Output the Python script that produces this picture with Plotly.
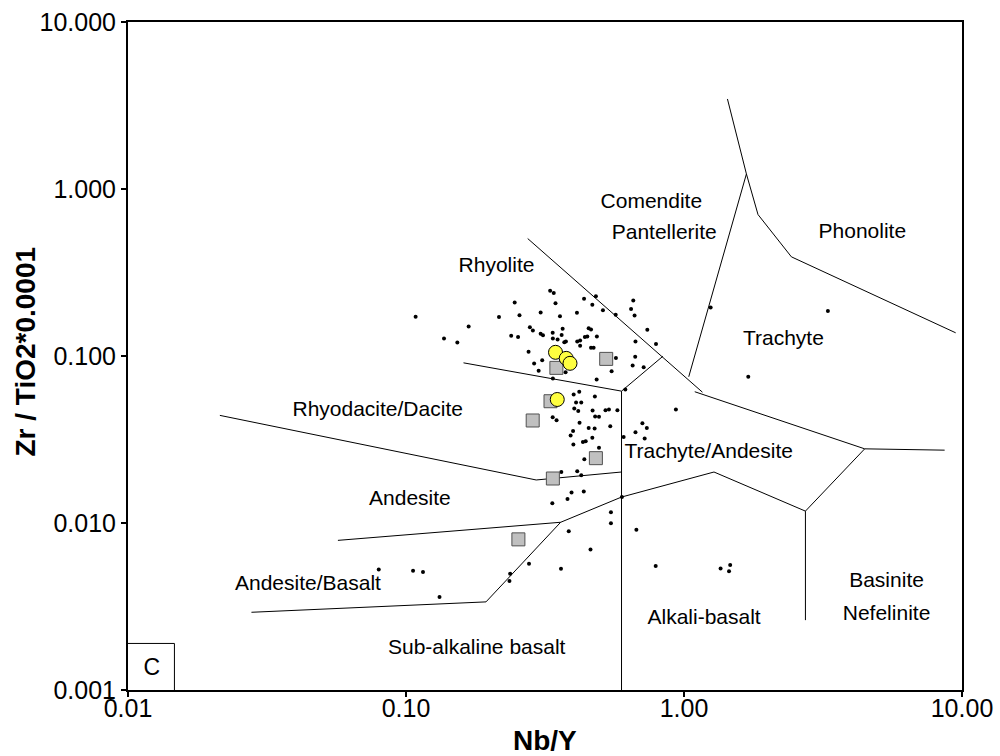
import plotly.graph_objects as go

# ---- sample data: Nb/Y vs Zr/TiO2*0.0001 ----
nb_y_samples = [
    0.330, 0.340, 0.246, 0.345, 0.437, 0.482, 0.468, 0.657, 0.645, 0.511,
    0.216, 0.256, 0.305, 0.358, 0.412, 0.568, 0.664, 0.168, 0.279, 0.286,
    0.366, 0.454, 0.463, 0.738, 0.137, 0.153, 0.239, 0.253, 0.305, 0.311,
    0.337, 0.363, 0.3375, 0.351, 0.371, 0.376, 0.413, 0.423, 0.440, 0.449,
    0.486, 0.423, 0.463, 0.473, 0.669, 0.793, 0.276, 0.569, 0.6675, 0.289,
    0.300, 0.309, 0.375, 0.549, 0.6535, 0.716, 0.3375, 0.485, 0.615, 1.247,
    0.935, 0.401, 0.420, 0.478, 0.409, 0.427, 0.403, 0.4165, 0.469, 0.522,
    0.537, 0.576, 0.479, 0.4945, 0.337, 0.1083, 0.348, 0.421, 0.454, 0.477,
    0.543, 0.399, 0.391, 0.433, 0.443, 0.468, 0.400, 0.4945, 0.6065, 0.669,
    0.7085, 0.735, 0.722, 0.438, 0.362, 0.413, 0.427, 0.394, 0.436, 0.381,
    0.336, 0.598, 0.546, 0.546, 0.674, 0.385, 0.461, 0.277, 0.361, 0.791,
    1.354, 1.466, 1.452, 0.237, 0.2356, 0.0798, 0.106, 0.1151, 0.132, 1.703,
    3.293,
]
zr_ti_samples = [
    0.2455, 0.2386, 0.209, 0.207, 0.220, 0.228, 0.203, 0.215, 0.1915, 0.1876,
    0.1715, 0.1754, 0.182, 0.173, 0.1813, 0.1764, 0.1747, 0.150, 0.1486, 0.142,
    0.1455, 0.1466, 0.144, 0.1435, 0.1273, 0.1203, 0.132, 0.130, 0.1357, 0.133,
    0.1377, 0.1338, 0.1273, 0.1255, 0.121, 0.122, 0.122, 0.1238, 0.130, 0.1307,
    0.1307, 0.115, 0.112, 0.112, 0.122, 0.118, 0.1062, 0.0972, 0.0989, 0.0902,
    0.0815, 0.0942, 0.0800, 0.0811, 0.0877, 0.0856, 0.0733, 0.0723, 0.0630, 0.195,
    0.0478, 0.0588, 0.0610, 0.0572, 0.0526, 0.0526, 0.0485, 0.0469, 0.0471, 0.0474,
    0.0478, 0.0473, 0.0434, 0.0432, 0.0430, 0.172, 0.0413, 0.0398, 0.0371, 0.0368,
    0.0380, 0.0355, 0.0334, 0.0305, 0.0309, 0.0324, 0.0295, 0.0282, 0.0327, 0.0350,
    0.0395, 0.0371, 0.0321, 0.0241, 0.0202, 0.0204, 0.0193, 0.01523, 0.01545, 0.01394,
    0.01314, 0.01429, 0.01161, 0.00997, 0.00912, 0.00891, 0.00695, 0.00571, 0.00533, 0.00552,
    0.00534, 0.00560, 0.00515, 0.00496, 0.00449, 0.00527, 0.00518, 0.00508, 0.00360, 0.0750,
    0.186,
]

nb_y_grey = [0.3475, 0.525, 0.331, 0.2856, 0.482, 0.3375, 0.2537]
zr_ti_grey = [0.0849, 0.0961, 0.0536, 0.0411, 0.02445, 0.01847, 0.00798]

nb_y_yellow = [0.345, 0.377, 0.389, 0.350]
zr_ti_yellow = [0.1052, 0.0968, 0.0904, 0.0549]

# ---- field boundaries (Nb/Y, Zr/TiO2*0.0001) ----
boundaries = {
    "rhyolite_comendite": ([0.274, 1.165], [0.505, 0.0607]),
    "rhyolite_rhyodacite": ([0.161, 0.596, 0.840], [0.091, 0.0616, 0.0997]),
    "alkaline_divide": ([0.596, 0.596], [0.0616, 0.001]),
    "phonolite": ([1.433, 1.677, 1.846, 2.434, 9.49], [3.46, 1.231, 0.703, 0.3925, 0.1377]),
    "comendite_trachyte": ([1.040, 1.677], [0.0751, 1.231]),
    "trachyte_trachyandesite": ([1.093, 4.467, 8.66], [0.0611, 0.0278, 0.0273]),
    "basanite_upper": ([4.467, 2.734, 2.734], [0.0278, 0.01178, 0.00262]),
    "alkali_basalt_upper": ([2.734, 1.282, 0.596, 0.360, 0.194, 0.0278],
                            [0.01178, 0.0202, 0.0143, 0.0101, 0.00337, 0.00292]),
    "andesite_basalt_upper": ([0.0569, 0.360], [0.00787, 0.0101]),
    "rhyodacite_andesite": ([0.0214, 0.294, 0.596], [0.0441, 0.0181, 0.0202]),
}

# ---- frame of the panel letter ----
panel_box_x = [0.01, 0.01469, 0.01469]
panel_box_y = [0.0019, 0.0019, 0.001]

# ---- field names and their anchor points ----
field_labels = [
    ("Comendite", 0.763, 0.825),
    ("Pantellerite", 0.849, 0.540),
    ("Phonolite", 4.381, 0.546),
    ("Rhyolite", 0.2116, 0.3416),
    ("Trachyte", 2.278, 0.1255),
    ("Rhyodacite/Dacite", 0.0791, 0.0473),
    ("Trachyte/Andesite", 1.227, 0.02642),
    ("Andesite", 0.1033, 0.01384),
    ("Andesite/Basalt", 0.0444, 0.004287),
    ("Sub-alkaline basalt", 0.1796, 0.001776),
    ("Alkali-basalt", 1.181, 0.00267),
    ("Basinite", 5.353, 0.004472),
    ("Nefelinite", 5.353, 0.002837),
]

x_ticks = [0.01, 0.1, 1, 10]
x_tick_text = ["0.01", "0.10", "1.00", "10.00"]
y_ticks = [0.001, 0.01, 0.1, 1, 10]
y_tick_text = ["0.001", "0.010", "0.100", "1.000", "10.000"]

FONT = "Liberation Sans, Arial, Helvetica, sans-serif"

fig = go.Figure()

for name, (bx, by) in boundaries.items():
    fig.add_trace(go.Scatter(x=bx, y=by, mode="lines", name=name,
                             line=dict(color="black", width=1), hoverinfo="skip"))

fig.add_trace(go.Scatter(x=panel_box_x, y=panel_box_y, mode="lines",
                         line=dict(color="black", width=1), hoverinfo="skip"))

fig.add_trace(go.Scatter(
    x=[lbl[1] for lbl in field_labels], y=[lbl[2] for lbl in field_labels],
    mode="text", text=[lbl[0] for lbl in field_labels],
    textposition="middle center",
    textfont=dict(family=FONT, size=21, color="black"), hoverinfo="skip"))

fig.add_trace(go.Scatter(x=[0.01217], y=[0.00133], mode="text", text=["C"],
                         textfont=dict(family=FONT, size=23, color="black"),
                         hoverinfo="skip"))

fig.add_trace(go.Scatter(x=nb_y_samples, y=zr_ti_samples, mode="markers",
                         marker=dict(symbol="circle", size=4, color="black"),
                         name="samples"))

fig.add_trace(go.Scatter(x=nb_y_grey, y=zr_ti_grey, mode="markers",
                         marker=dict(symbol="square", size=13, color="#c0c0c0",
                                     line=dict(color="#505050", width=1)),
                         name="grey group"))

fig.add_trace(go.Scatter(x=nb_y_yellow, y=zr_ti_yellow, mode="markers",
                         marker=dict(symbol="circle", size=14, color="#ffff40",
                                     line=dict(color="black", width=1)),
                         name="yellow group"))

axis_common = dict(
    type="log", showgrid=False, zeroline=False, automargin=False,
    showline=True, linewidth=2, linecolor="black", mirror=True,
    ticks="outside", ticklen=5, tickwidth=1.5, tickcolor="black",
    tickfont=dict(family=FONT, size=25, color="black"),
)

title_font = dict(family=FONT, size=28, color="black", weight="bold")

fig.update_layout(
    width=1000, height=756,
    margin=dict(l=128, r=38, t=22, b=66, autoexpand=False),
    plot_bgcolor="white", paper_bgcolor="white",
    showlegend=False,
    font=dict(family=FONT, color="black"),
    xaxis=dict(axis_common, range=[-2, 1], tickvals=x_ticks, ticktext=x_tick_text,
               ticklabelstandoff=-10),
    yaxis=dict(axis_common, range=[-3, 1], tickvals=y_ticks, ticktext=y_tick_text),
    annotations=[
        dict(text="Nb/Y", xref="paper", yref="paper", x=0.5, y=-0.0763,
             xanchor="center", yanchor="middle", showarrow=False, font=title_font),
        dict(text="Zr / TiO2*0.0001", xref="paper", yref="paper", x=-0.1223, y=0.5067,
             xanchor="center", yanchor="middle", textangle=-90, showarrow=False,
             font=title_font),
    ],
)

fig.write_html("out.html")
